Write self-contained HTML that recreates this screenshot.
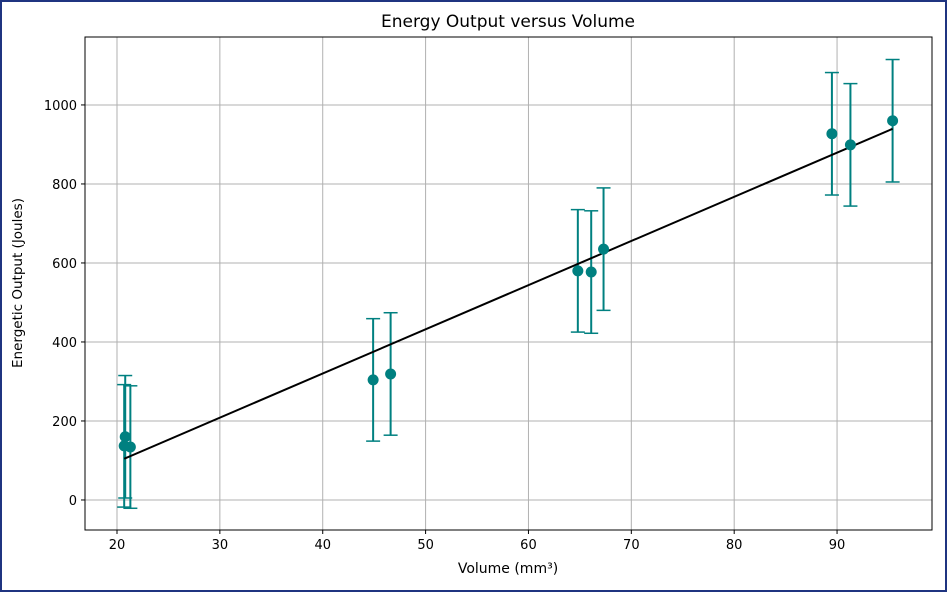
<!DOCTYPE html>
<html><head><meta charset="utf-8"><style>
body{margin:0;background:#fff}
svg{display:block;font-family:"DejaVu Sans","Liberation Sans",sans-serif}
</style></head><body>
<svg id="chart" width="947" height="592">
<rect x="1" y="1" width="945" height="590" fill="#fff" stroke="#1f3480" stroke-width="2"/>
<text x="508" y="27" text-anchor="middle" font-size="17">Energy Output versus Volume</text>
<g id="grid"></g><g id="marks"></g><g id="axes"></g>
<text x="508" y="573" text-anchor="middle" font-size="14">Volume (mm³)</text>
<text transform="translate(22,283) rotate(-90)" text-anchor="middle" font-size="13.5">Energetic Output (Joules)</text>
</svg>
<script>
const volumes=[20.7,20.8,21.3,44.9,46.6,64.8,66.1,67.3,89.5,91.3,95.4];
const energies=[137,160,134,304,319,580,577,635,927,899,960];
const errors=[155,155,155,155,155,155,155,155,155,155,155];
const xTicks=[20,30,40,50,60,70,80,90];
const yTicks=[0,200,400,600,800,1000];
const L=85,R=932,T=37,B=530,X0=16.89,X1=99.23,Y0=-76,Y1=1172;
const sx=v=>L+(v-X0)/(X1-X0)*(R-L), sy=v=>B-(v-Y0)/(Y1-Y0)*(B-T);
const NS="http://www.w3.org/2000/svg";
function mk(p,t,a){const e=document.createElementNS(NS,t);for(const k in a)e.setAttribute(k,a[k]);p.appendChild(e);return e;}
const grid=document.getElementById('grid'),marks=document.getElementById('marks'),axes=document.getElementById('axes');
xTicks.forEach(t=>{const x=sx(t);
 let g=mk(grid,'line',{x1:x,x2:x,y1:T,y2:B,stroke:'#b0b0b0','stroke-width':1});
 
 
 mk(axes,'line',{x1:x,x2:x,y1:B,y2:B+4,stroke:'#000'});
 let l=mk(axes,'text',{x:x,y:B+19,'text-anchor':'middle','font-size':13});l.textContent=t;
 
 });
yTicks.forEach(t=>{const y=sy(t);
 let g=mk(grid,'line',{x1:L,x2:R,y1:y,y2:y,stroke:'#b0b0b0','stroke-width':1});
 
 
 mk(axes,'line',{x1:L-4,x2:L,y1:y,y2:y,stroke:'#000'});
 let l=mk(axes,'text',{x:L-8,y:y+5,'text-anchor':'end','font-size':13});l.textContent=t;
 
 });
let fr=mk(axes,'rect',{x:L,y:T,width:R-L,height:B-T,fill:'none',stroke:'#000','stroke-width':1});


const n=volumes.length,mx=volumes.reduce((a,b)=>a+b)/n,my=energies.reduce((a,b)=>a+b)/n;
let sxy=0,sxx=0;volumes.forEach((v,i)=>{sxy+=(v-mx)*(energies[i]-my);sxx+=(v-mx)**2;});
const slope=sxy/sxx,icpt=my-slope*mx,xmin=Math.min(...volumes),xmax=Math.max(...volumes);
volumes.forEach((v,i)=>{const x=sx(v),c='#008080';
 const eb=mk(marks,'g',{stroke:c,'stroke-width':2});
 
 
 mk(eb,'line',{x1:x,x2:x,y1:sy(energies[i]-errors[i]),y2:sy(energies[i]+errors[i])});
 mk(eb,'line',{x1:x-7,x2:x+7,y1:sy(energies[i]-errors[i]),y2:sy(energies[i]-errors[i]),'stroke-width':1.5});
 mk(eb,'line',{x1:x-7,x2:x+7,y1:sy(energies[i]+errors[i]),y2:sy(energies[i]+errors[i]),'stroke-width':1.5});});
const fl=mk(marks,'line',{x1:sx(xmin),y1:sy(slope*xmin+icpt),x2:sx(xmax),y2:sy(slope*xmax+icpt),stroke:'#000','stroke-width':2});


volumes.forEach((v,i)=>{const p=mk(marks,'circle',{cx:sx(v),cy:sy(energies[i]),r:5.5,fill:'#008080'});
 
 });
</script>
</body></html>
